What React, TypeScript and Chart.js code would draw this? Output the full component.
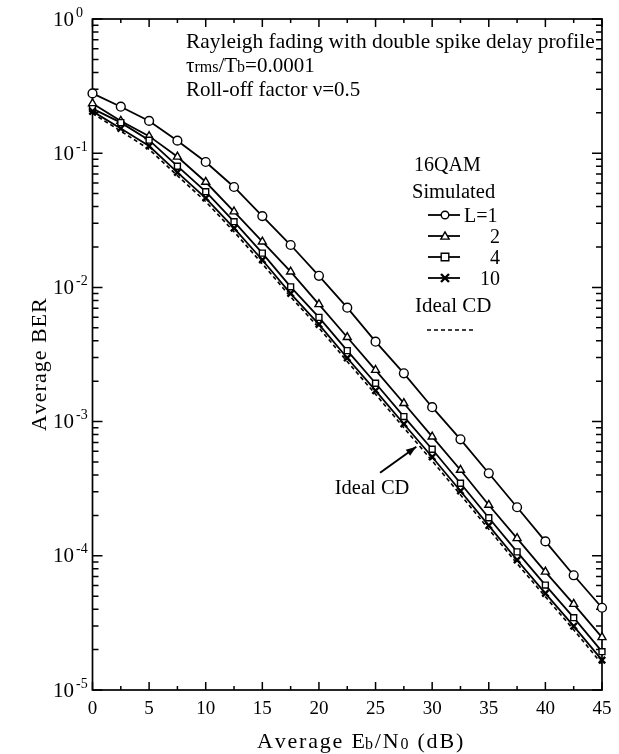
import React, { useEffect, useRef } from 'react';
import { Chart, registerables } from 'chart.js';

Chart.register(...registerables);

// ---- data ----
const ebn0 = [0, 2.5, 5, 7.5, 10, 12.5, 15, 17.5, 20, 22.5, 25, 27.5, 30, 32.5, 35, 37.5, 40, 42.5, 45];
const berL1 = [0.279, 0.222, 0.174, 0.124, 0.086, 0.056, 0.034, 0.0207, 0.0122, 7.06e-3, 3.94e-3, 2.29e-3, 1.28e-3, 7.38e-4, 4.12e-4, 2.3e-4, 1.28e-4, 7.16e-5, 4.1e-5];
const berL2 = [0.235, 0.174, 0.134, 0.094, 0.061, 0.0367, 0.0219, 0.0131, 7.48e-3, 4.25e-3, 2.42e-3, 1.37e-3, 7.72e-4, 4.36e-4, 2.39e-4, 1.35e-4, 7.6e-5, 4.37e-5, 2.47e-5];
const berL4 = [0.215, 0.169, 0.125, 0.08, 0.0517, 0.0309, 0.018, 0.0101, 5.98e-3, 3.38e-3, 1.93e-3, 1.09e-3, 6.22e-4, 3.47e-4, 1.92e-4, 1.07e-4, 6.05e-5, 3.46e-5, 1.93e-5];
const berL10 = [0.205, 0.153, 0.113, 0.072, 0.0463, 0.0276, 0.016, 0.009, 5.3e-3, 2.98e-3, 1.7e-3, 9.6e-4, 5.45e-4, 3.04e-4, 1.68e-4, 9.3e-5, 5.25e-5, 2.99e-5, 1.67e-5];
const berIdeal = [0.198, 0.146, 0.107, 0.068, 0.0436, 0.026, 0.015, 0.0085, 5.0e-3, 2.8e-3, 1.6e-3, 9.0e-4, 5.1e-4, 2.85e-4, 1.58e-4, 8.75e-5, 4.95e-5, 2.81e-5, 1.56e-5];

const xTickValues = [0, 5, 10, 15, 20, 25, 30, 35, 40, 45];
const xMinorTickValues = [2.5, 7.5, 12.5, 17.5, 22.5, 27.5, 32.5, 37.5, 42.5];
const yDecadeExponents = [0, -1, -2, -3, -4, -5];
const yMinorMultipliers = [2, 3, 4, 5, 6, 7, 8, 9];

const legendLabels = ['L=1', '2', '4', '10'];
const legendStyles = ['circle', 'triangle', 'rect', 'crossRot'];

// arrow annotation "Ideal CD" in data coordinates
const arrowTail = { x: 25.4, y: 4.16e-4 };
const arrowTip = { x: 28.6, y: 6.5e-4 };
const arrowLabel = { x: 21.4, y: 2.88e-4, text: 'Ideal CD' };

const SERIF = '"Liberation Serif", "Times New Roman", "DejaVu Serif", serif';

type Part = { t: string; size: number; dy?: number; ls?: number };

function partWidth(ctx: CanvasRenderingContext2D, p: Part) {
  ctx.font = `${p.size}px ${SERIF}`;
  const ls = p.ls || 0;
  return ctx.measureText(p.t).width + ls * p.t.length;
}

function drawRich(ctx: CanvasRenderingContext2D, parts: Part[], x: number, y: number, align: 'left' | 'right' | 'center' = 'left') {
  const widths = parts.map((p) => partWidth(ctx, p));
  const total = widths.reduce((s, w) => s + w, 0);
  let cx = align === 'left' ? x : align === 'right' ? x - total : x - total / 2;
  ctx.textAlign = 'left';
  ctx.textBaseline = 'alphabetic';
  parts.forEach((p, i) => {
    ctx.font = `${p.size}px ${SERIF}`;
    const ls = p.ls || 0;
    if (ls) {
      let lx = cx;
      for (const ch of p.t) {
        ctx.fillText(ch, lx, y + (p.dy || 0));
        lx += ctx.measureText(ch).width + ls;
      }
    } else {
      ctx.fillText(p.t, cx, y + (p.dy || 0));
    }
    cx += widths[i];
  });
}

function drawMarker(ctx: CanvasRenderingContext2D, style: string, x: number, y: number, r: number) {
  ctx.beginPath();
  if (style === 'circle') {
    ctx.arc(x, y, r, 0, Math.PI * 2);
    ctx.fill();
    ctx.stroke();
  } else if (style === 'triangle') {
    const h = r * 1.1;
    ctx.moveTo(x, y - h);
    ctx.lineTo(x + h, y + h * 0.75);
    ctx.lineTo(x - h, y + h * 0.75);
    ctx.closePath();
    ctx.fill();
    ctx.stroke();
  } else if (style === 'rect') {
    ctx.rect(x - r, y - r, 2 * r, 2 * r);
    ctx.fill();
    ctx.stroke();
  } else {
    ctx.moveTo(x - r, y - r);
    ctx.lineTo(x + r, y + r);
    ctx.moveTo(x + r, y - r);
    ctx.lineTo(x - r, y + r);
    ctx.stroke();
  }
}

const decorPlugin = {
  id: 'decor',
  beforeDatasetsDraw(chart: any) {
    const { ctx, chartArea: a, scales } = chart;
    const xs = scales.x;
    const ys = scales.y;
    ctx.save();
    ctx.strokeStyle = '#000';
    ctx.fillStyle = '#000';
    ctx.lineWidth = 1.7;
    ctx.strokeRect(a.left, a.top, a.right - a.left, a.bottom - a.top);

    // x ticks (inward, bottom and top)
    ctx.lineWidth = 1.5;
    ctx.beginPath();
    xTickValues.forEach((v) => {
      const px = xs.getPixelForValue(v);
      ctx.moveTo(px, a.bottom);
      ctx.lineTo(px, a.bottom - 8);
      ctx.moveTo(px, a.top);
      ctx.lineTo(px, a.top + 8);
    });
    xMinorTickValues.forEach((v) => {
      const px = xs.getPixelForValue(v);
      ctx.moveTo(px, a.bottom);
      ctx.lineTo(px, a.bottom - 4);
      ctx.moveTo(px, a.top);
      ctx.lineTo(px, a.top + 4);
    });
    // y ticks (inward, left and right)
    yDecadeExponents.forEach((e) => {
      const py = ys.getPixelForValue(Math.pow(10, e));
      ctx.moveTo(a.left, py);
      ctx.lineTo(a.left + 10, py);
      ctx.moveTo(a.right, py);
      ctx.lineTo(a.right - 10, py);
      if (e > -5) {
        yMinorMultipliers.forEach((m) => {
          const my = ys.getPixelForValue(m * Math.pow(10, e - 1));
          ctx.moveTo(a.left, my);
          ctx.lineTo(a.left + 6, my);
          ctx.moveTo(a.right, my);
          ctx.lineTo(a.right - 6, my);
        });
      }
    });
    ctx.stroke();

    // x tick labels
    ctx.font = `19px ${SERIF}`;
    ctx.textAlign = 'center';
    ctx.textBaseline = 'middle';
    xTickValues.forEach((v) => {
      ctx.fillText(String(v), xs.getPixelForValue(v), a.bottom + 19);
    });

    // y tick labels 10^e
    yDecadeExponents.forEach((e) => {
      const py = ys.getPixelForValue(Math.pow(10, e));
      ctx.font = `21px ${SERIF}`;
      ctx.textAlign = 'right';
      ctx.textBaseline = 'middle';
      ctx.fillText('10', 74, py + 1);
      ctx.font = `14px ${SERIF}`;
      ctx.textAlign = 'left';
      ctx.fillText(e === 0 ? '0' : '-' + String(-e), 76, py - 6);
    });

    // axis titles
    drawRich(ctx, [
      { t: 'Average E', size: 22, ls: 1.8 },
      { t: 'b', size: 16, dy: 1, ls: 1.8 },
      { t: '/N', size: 22, ls: 1.8 },
      { t: '0', size: 16, dy: 1, ls: 1.8 },
      { t: ' (dB)', size: 22, ls: 1.8 },
    ], 361, 748, 'center');

    ctx.save();
    ctx.translate(46, 365);
    ctx.rotate(-Math.PI / 2);
    drawRich(ctx, [{ t: 'Average BER', size: 22, ls: 1 }], 0, 0, 'center');
    ctx.restore();

    // top-left annotations
    drawRich(ctx, [{ t: 'Rayleigh fading with double spike delay profile', size: 21.4 }], 186, 48);
    drawRich(ctx, [
      { t: 'τ', size: 21 },
      { t: 'rms', size: 16 },
      { t: '/T', size: 21 },
      { t: 'b', size: 16 },
      { t: '=0.0001', size: 21 },
    ], 186, 72);
    drawRich(ctx, [{ t: 'Roll-off factor ν=0.5', size: 21 }], 186, 96);

    // legend block
    drawRich(ctx, [{ t: '16QAM', size: 20 }], 414, 171);
    drawRich(ctx, [{ t: 'Simulated', size: 20.5 }], 412, 198);
    const rowsY = [215, 236, 257, 278];
    legendStyles.forEach((st, i) => {
      const ly = rowsY[i];
      ctx.strokeStyle = '#000';
      ctx.lineWidth = 1.8;
      ctx.beginPath();
      ctx.moveTo(428, ly);
      ctx.lineTo(460, ly);
      ctx.stroke();
      ctx.fillStyle = '#fff';
      ctx.lineWidth = st === 'crossRot' ? 2.4 : 1.4;
      drawMarker(ctx, st, 445, ly, st === 'crossRot' ? 4 : 3.8);
      ctx.fillStyle = '#000';
      if (i === 0) {
        drawRich(ctx, [{ t: legendLabels[i], size: 20 }], 464, ly + 7);
      } else {
        drawRich(ctx, [{ t: legendLabels[i], size: 20 }], 500, ly + 7, 'right');
      }
    });
    ctx.fillStyle = '#000';
    drawRich(ctx, [{ t: 'Ideal CD', size: 21 }], 415, 312);
    ctx.lineWidth = 1.4;
    ctx.setLineDash([4, 3]);
    ctx.beginPath();
    ctx.moveTo(427, 330);
    ctx.lineTo(476, 330);
    ctx.stroke();
    ctx.setLineDash([]);

    // arrow annotation
    const tx = xs.getPixelForValue(arrowTail.x);
    const ty = ys.getPixelForValue(arrowTail.y);
    const hx = xs.getPixelForValue(arrowTip.x);
    const hy = ys.getPixelForValue(arrowTip.y);
    ctx.lineWidth = 2;
    ctx.beginPath();
    ctx.moveTo(tx, ty);
    ctx.lineTo(hx, hy);
    ctx.stroke();
    const ang = Math.atan2(hy - ty, hx - tx);
    ctx.beginPath();
    ctx.moveTo(hx, hy);
    ctx.lineTo(hx - 11 * Math.cos(ang - 0.35), hy - 11 * Math.sin(ang - 0.35));
    ctx.lineTo(hx - 11 * Math.cos(ang + 0.35), hy - 11 * Math.sin(ang + 0.35));
    ctx.closePath();
    ctx.fill();
    drawRich(ctx, [{ t: arrowLabel.text, size: 20.5 }], xs.getPixelForValue(arrowLabel.x), ys.getPixelForValue(arrowLabel.y));

    ctx.restore();
  },
};

function series(label: string, data: number[], style: any, extra: any = {}) {
  return {
    label,
    data: ebn0.map((x, i) => ({ x, y: data[i] })),
    borderColor: '#000',
    backgroundColor: '#fff',
    borderWidth: 1.8,
    pointStyle: style,
    pointRadius: style === false ? 0 : 4,
    pointBorderWidth: 1.4,
    pointBorderColor: '#000',
    pointBackgroundColor: '#fff',
    tension: 0,
    fill: false,
    clip: false,
    ...extra,
  };
}

export default function App() {
  const ref = useRef<HTMLCanvasElement | null>(null);
  useEffect(() => {
    if (!ref.current) return;
    const chart = new Chart(ref.current, {
      type: 'line',
      data: {
        datasets: [
          series('Ideal CD', berIdeal, false, { borderDash: [4, 3], borderWidth: 1.6 }),
          series('L=10', berL10, 'crossRot', { pointRadius: 4.5, pointBorderWidth: 2.4 }),
          series('L=4', berL4, 'rect', { pointRadius: 4.2 }),
          series('L=2', berL2, 'triangle', { pointRadius: 4.6 }),
          series('L=1', berL1, 'circle', { pointRadius: 4.4 }),
        ] as any,
      },
      options: {
        responsive: false,
        animation: false,
        layout: { padding: { left: 92.5, right: 17, top: 19, bottom: 64 } },
        plugins: { legend: { display: false }, tooltip: { enabled: false } },
        scales: {
          x: { type: 'linear', min: 0, max: 45, display: false },
          y: { type: 'logarithmic', min: 1e-5, max: 1, display: false },
        },
      },
      plugins: [decorPlugin],
    });
    return () => chart.destroy();
  }, []);
  return (
    <div style={{ position: 'absolute', left: 0, top: 0, width: 619, height: 754, background: '#fff' }}>
      <canvas ref={ref} width={619} height={754} style={{ width: 619, height: 754, display: 'block' }} />
    </div>
  );
}
